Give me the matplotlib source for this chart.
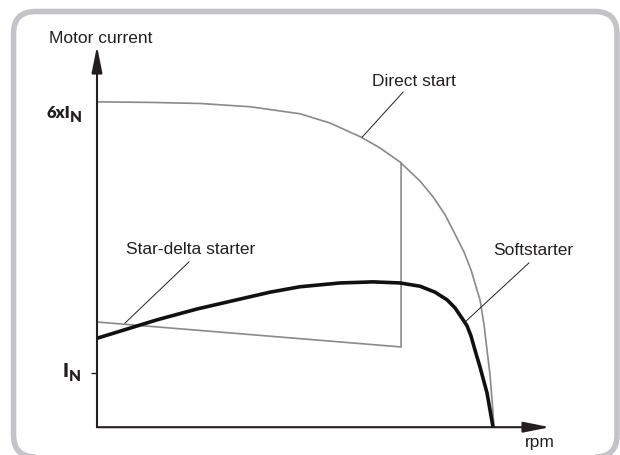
import matplotlib
matplotlib.use('Agg')
import matplotlib.pyplot as plt
from matplotlib.patches import FancyBboxPatch

# speed in % of synchronous speed, current in multiples of I_N
directX = [0, 13.35, 25.94, 38.54, 51.13, 58.69, 66.50, 71.28, 76.32, 81.36, 84.63, 87.66,
           90.18, 92.44, 94.21, 95.72, 96.47, 97.48, 98.24, 99.0, 99.5, 100]
directY = [6.00, 5.99, 5.97, 5.91, 5.78, 5.61, 5.35, 5.15, 4.89, 4.54, 4.25, 3.92,
           3.56, 3.23, 2.90, 2.53, 2.35, 1.89, 1.42, 0.96, 0.50, 0]

starX = [0, 76.6, 76.6]
starY = [1.94, 1.48, 4.88]

softX = [0, 7.56, 15.11, 25.19, 35.26, 43.58, 51.13, 61.21, 69.52, 76.32, 81.36, 85.14,
         88.16, 90.18, 91.94, 93.20, 94.21, 95.21, 96.47, 98.24, 99.75]
softY = [1.64, 1.81, 1.98, 2.18, 2.35, 2.49, 2.59, 2.66, 2.68, 2.66, 2.60, 2.49,
         2.35, 2.20, 2.01, 1.87, 1.68, 1.42, 1.11, 0.63, 0]

# label text, text position, leader start, leader end
labels = [
    ('Direct start', (79.8, 6.37), (77.1, 6.18), (66.8, 5.35)),
    ('Star-delta starter', (23.7, 3.27), (23.2, 3.05), (7.05, 1.92)),
    ('Softstarter', (109.8, 3.25), (108.8, 3.03), (92.7, 1.94)),
]

xMax = 114.1
yMax = 7.03

plt.rcParams['font.family'] = ['Liberation Sans', 'DejaVu Sans']
textCol = '#231f20'
axisCol = '#231f20'

fig = plt.figure(figsize=(6.2, 4.55), dpi=100)
fig.patch.set_facecolor('white')

# rounded frame round the whole picture
frame = FancyBboxPatch((0.135, -0.02), 6.17 - 0.135, 4.435 + 0.02,
                       boxstyle='round,pad=0,rounding_size=0.22',
                       transform=fig.dpi_scale_trans, fill=False,
                       edgecolor='#c4c4c8', lw=4.0, clip_on=False)
fig.patches.append(frame)

ax = fig.add_axes([97/620, (455-427.2)/455, (550-97)/620, (427.2-46)/455])
ax.set_xlim(0, xMax)
ax.set_ylim(0, yMax)
ax.patch.set_alpha(0)
for s in ax.spines.values():
    s.set_visible(False)
ax.set_xticks([])
ax.set_yticks([1])
ax.set_yticklabels([''])
ax.tick_params(axis='y', length=4.5, width=1.0, color=axisCol)

# axes with arrow heads
arrowStyle = '-|>,head_length=0.8,head_width=0.16'
ax.annotate('', xy=(xMax, 0), xytext=(0, 0),
            arrowprops=dict(arrowstyle=arrowStyle, mutation_scale=20, color=axisCol,
                            lw=1.5, shrinkA=0, shrinkB=0), annotation_clip=False)
ax.annotate('', xy=(0, yMax), xytext=(0, 0),
            arrowprops=dict(arrowstyle=arrowStyle, mutation_scale=20, color=axisCol,
                            lw=1.5, shrinkA=0, shrinkB=0), annotation_clip=False)

# curves
ax.plot(directX, directY, color='#8a8a8a', lw=1.2, clip_on=False, solid_joinstyle='round')
ax.plot(starX, starY, color='#8a8a8a', lw=1.2, clip_on=False)
ax.plot(softX, softY, color='#111111', lw=2.6, clip_on=False,
        solid_joinstyle='round', solid_capstyle='butt')

for txt, pos, p0, p1 in labels:
    ax.text(pos[0], pos[1], txt, ha='center', va='center', fontsize=12.5,
            color=textCol, clip_on=False)
    ax.plot([p0[0], p1[0]], [p0[1], p1[1]], color=textCol, lw=0.7, clip_on=False)

ax.text(1.0, 7.17, 'Motor current', ha='center', va='center', fontsize=12.5,
        color=textCol, clip_on=False)
ax.text(111.6, -0.29, 'rpm', ha='center', va='center', fontsize=12.5,
        color=textCol, clip_on=False)

# level labels
lvl = dict(fontweight='heavy', family=['Lato', 'DejaVu Sans'], color=textCol, clip_on=False)
ax.text(-6.8, 5.80, '6xI', ha='right', va='center', fontsize=12, **lvl)
ax.text(-6.9, 5.72, 'N', ha='left', va='center', fontsize=11, **lvl)
ax.text(-7.2, 1.03, 'I', ha='right', va='center', fontsize=13.5, **lvl)
ax.text(-7.2, 0.94, 'N', ha='left', va='center', fontsize=11, **lvl)

fig.savefig('out.png', dpi=100, facecolor='white')
